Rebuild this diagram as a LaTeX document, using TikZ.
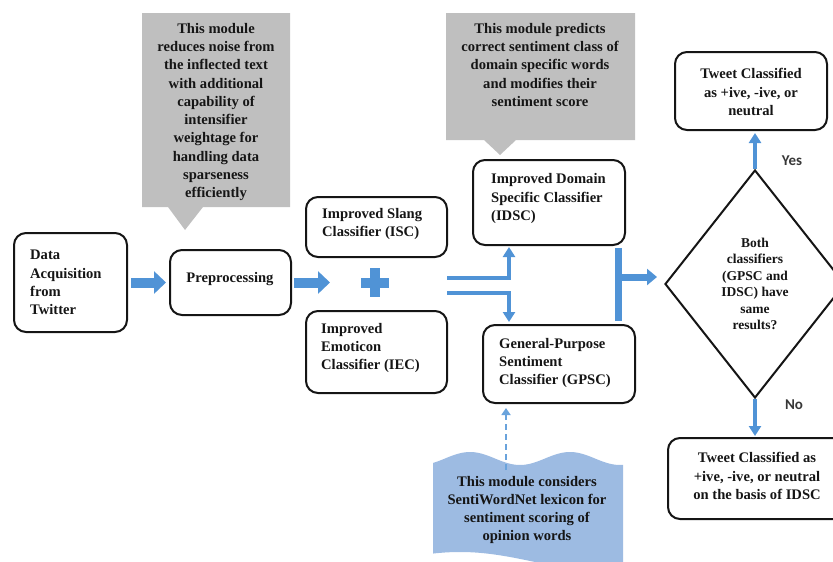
\documentclass[tikz,border=0pt]{standalone}
\usepackage{fontspec}
\setmainfont{Liberation Serif}
\newfontfamily\yesfont{Carlito}
\usetikzlibrary{shapes.geometric,arrows.meta,calc}
\definecolor{ablue}{HTML}{5093D6}
\definecolor{cgray}{HTML}{BFBFBF}
\definecolor{docblue}{HTML}{9DBBE2}
\definecolor{ink}{HTML}{151515}
\begin{document}
\begin{tikzpicture}[x=1pt,y=-1pt,
 box/.style={draw=ink, line width=2pt, rounded corners=12pt, fill=white, inner sep=0pt},
 txt/.style={inner sep=0pt, text=ink, font=\fontsize{14.6}{18.3}\selectfont\bfseries, align=left},
 ctxt/.style={txt, align=center},
 dtxt/.style={inner sep=0pt, text=ink, font=\fontsize{13.5}{16.4}\selectfont\bfseries, align=center},
 conn/.style={draw=ablue, line width=4pt, -{Triangle[length=10pt,width=12pt]}},
 barrow/.style={draw=ablue, line width=10pt, -{Triangle[length=12pt,width=22pt]}},
 barrowsm/.style={draw=ablue, line width=7pt, -{Triangle[length=10pt,width=16pt]}},
 lbl/.style={inner sep=0pt, text=ink!85, font=\yesfont\fontsize{15}{18}\selectfont\bfseries}
]
\useasboundingbox (0,0) rectangle (833,562);

% callouts
\fill[cgray] (142,13) -- (290,13) -- (290,207) -- (203,207) -- (185,230) -- (168,207) -- (142,207) -- cycle;
\node[ctxt] (c1) at (216,112) {This module\\reduces noise from\\the inflected text\\with additional\\capability of\\intensifier\\weightage for\\handling data\\sparseness\\efficiently};
\fill[cgray] (446,13) -- (635,13) -- (635,140) -- (516,140) -- (500,155) -- (484,140) -- (446,140) -- cycle;
\node[ctxt] (c2) at (540,65) {This module predicts\\correct sentiment class of\\domain specific words\\and modifies their\\sentiment score};

% document shape
\fill[docblue] plot[domain=433:623,samples=80] (\x,{458.5+6.5*cos(3.6*(\x-520))})
  -- plot[domain=623:433,samples=80] (\x,{562+10*cos(1.2*(\x-610))}) -- cycle;
\node[ctxt] (doc) at (527,510) {This module considers\\SentiWordNet lexicon for\\sentiment scoring of\\opinion words};

% boxes
\node[box, minimum width=113pt, minimum height=99pt] (data) at (70.5,282.5) {};
\node[txt, anchor=west] (dataT) at ([xshift=17pt]data.west) {Data\\Acquisition\\from\\Twitter};
\node[box, minimum width=121pt, minimum height=65pt] (pre) at (230.5,282.5) {};
\node[ctxt] (preT) at (230,279) {Preprocessing};
\node[box, minimum width=141pt, minimum height=60pt] (isc) at (376.5,227) {};
\node[txt, anchor=west] (iscT) at ([xshift=17pt,yshift=3pt]isc.west) {Improved Slang\\Classifier (ISC)};
\node[box, minimum width=141pt, minimum height=82pt] (iec) at (376.5,352) {};
\node[txt, anchor=west] (iecT) at ([xshift=16pt,yshift=4pt]iec.west) {Improved\\Emoticon\\Classifier (IEC)};
\node[box, minimum width=152pt, minimum height=85pt] (idsc) at (549,202.5) {};
\node[txt, anchor=west] (idscT) at ([xshift=19pt,yshift=4pt]idsc.west) {Improved Domain\\Specific Classifier\\(IDSC)};
\node[box, minimum width=152pt, minimum height=78pt] (gpsc) at (559,364) {};
\node[txt, anchor=west] (gpscT) at ([xshift=17pt,yshift=1pt]gpsc.west) {General-Purpose\\Sentiment\\Classifier (GPSC)};
\node[box, minimum width=152pt, minimum height=78pt] (top) at (751,91) {};
\node[ctxt] (topT) at (751,92) {Tweet Classified\\as +ive, -ive, or\\neutral};
\node[box, minimum width=178pt, minimum height=81pt] (bot) at (757,478.5) {};
\node[ctxt] (botT) at (757,476) {Tweet Classified as\\+ive, -ive, or neutral\\on the basis of IDSC};

% decision
\node[diamond, draw=ink, line width=2pt, minimum width=180pt, minimum height=228pt, inner sep=0pt, fill=white] (dia) at (755,284) {};
\node[dtxt] (diaT) at (755,284) {Both\\classifiers\\(GPSC and\\IDSC) have\\same\\results?};

% arrows
\coordinate (plus) at (375,282.5);
\draw[barrow] ([xshift=3pt]data.east) -- ([xshift=-3pt]pre.west);
\draw[barrow] ([xshift=2pt]pre.east) -- ($(plus)+(-45,0)$);
\draw[ablue, line width=10pt] ($(plus)+(-14,0)$) -- ($(plus)+(14,0)$) ($(plus)+(0,-14.5)$) -- ($(plus)+(0,14.5)$);

\coordinate (sa) at (447,278);
\coordinate (sb) at (447,293);
\draw[conn] (sa) -| ([xshift=-40pt,yshift=-1pt]idsc.south);
\draw[conn] (sb) -| ([xshift=-50pt,yshift=2pt]gpsc.north);

\draw[ablue, line width=7pt] ([xshift=69pt,yshift=-2pt]idsc.south) -- ([xshift=59pt,yshift=3pt]gpsc.north);
\coordinate (bm) at (618,277);
\draw[barrowsm] ([xshift=3pt]bm) -- ([xshift=-7pt]bm -| dia.west);

\draw[conn] (dia.north) -- ([yshift=-2pt]dia.north |- top.south);
\draw[conn] (dia.south) -- ([yshift=1pt]dia.south |- bot.north);

\coordinate (ds) at (506,470);
\draw[draw=ablue!85, line width=2pt, dash pattern=on 6pt off 4pt, -{Triangle[length=7pt,width=9pt]}] (ds) -- ([yshift=-4pt]ds |- gpsc.south);

\node[lbl] (yes) at (792,161) {Yes};
\node[lbl] (no) at (794,405) {No};
\end{tikzpicture}
\end{document}
